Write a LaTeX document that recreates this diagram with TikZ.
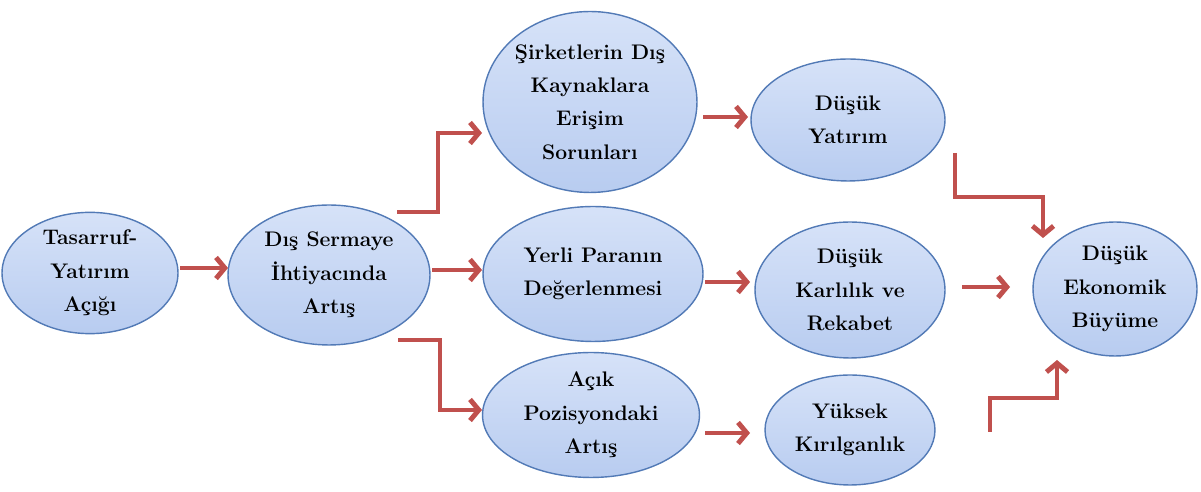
\documentclass[tikz,border=0pt]{standalone}
\usepackage{fontspec}
\usetikzlibrary{calc,shapes.geometric,arrows.meta}
\definecolor{okkirmizi}{RGB}{192,80,77}
\definecolor{balonkenar}{RGB}{82,122,182}
\definecolor{balonust}{RGB}{214,226,248}
\definecolor{balonalt}{RGB}{184,204,240}
\tikzset{
	balon/.style={ellipse, draw=balonkenar, line width=0.8pt, top color=balonust, bottom color=balonalt, inner sep=0pt, align=center, font=\fontsize{12}{19}\selectfont\bfseries},
	ok/.style={draw=okkirmizi, line width=2.8pt, -{Straight Barb[length=5pt,width=12pt]}}
}

\begin{document}
\begin{tikzpicture}[x=0.02cm, y=-0.02cm]
			%%%%% START %%%%%
			\useasboundingbox (0,0) rectangle (1201,492);
			
			\node[balon, minimum width=3.52cm, minimum height=2.4cm] (tasarruf) at (90,273) {Tasarruf-\\Yatırım\\Açığı};
			\node[balon, minimum width=4.04cm, minimum height=2.8cm] (sermaye) at (329,275) {Dış Sermaye\\İhtiyacında\\Artış};
			
			\node[balon, minimum width=4.28cm, minimum height=3.62cm] (sirket) at (590,102) {Şirketlerin Dış\\Kaynaklara\\Erişim\\Sorunları};
			\node[balon, minimum width=4.4cm, minimum height=2.7cm] (yerli) at (593,274) {Yerli Paranın\\Değerlenmesi};
			\node[balon, minimum width=4.34cm, minimum height=2.5cm] (acik) at (591,415) {Açık\\Pozisyondaki\\Artış};
			
			\node[balon, minimum width=3.88cm, minimum height=2.44cm] (yatirim) at (848,120) {Düşük\\Yatırım};
			\node[balon, minimum width=3.8cm, minimum height=2.72cm] (karlilik) at (850,290) {Düşük\\Karlılık ve\\Rekabet};
			\node[balon, minimum width=3.4cm, minimum height=2.2cm] (kirilgan) at (850,430) {Yüksek\\Kırılganlık};
			
			\node[balon, minimum width=3.28cm, minimum height=2.68cm] (buyume) at (1115,289) {Düşük\\Ekonomik\\Büyüme};
			
			\draw[ok] ($(tasarruf)+(90,-5)$) -- ($(sermaye)+(-101,-7)$);
			\draw[ok] ($(sermaye)+(68,-63)$) -- ++(41,0) |- ($(sirket)+(-108,31)$);
			\draw[ok] ($(sermaye)+(103,-5)$) -- ($(yerli)+(-111,-4)$);
			\draw[ok] ($(sermaye)+(69,65)$) -- ++(42,0) |- ($(acik)+(-109,-5)$);
			
			\draw[ok] ($(sirket)+(113,15)$) -- ($(yatirim)+(-100,-3)$);
			\draw[ok] ($(yerli)+(112,8)$) -- ($(karlilik)+(-100,-8)$);
			\draw[ok] ($(acik)+(114,18)$) -- ($(kirilgan)+(-100,3)$);
			
			\draw[ok] ($(yatirim)+(107,33)$) -- ++(0,44) -| ($(buyume)+(-72,-51)$);
			\draw[ok] ($(karlilik)+(112,-3)$) -- ($(buyume)+(-105,-2)$);
			\draw[ok] ($(kirilgan)+(140,2)$) -- ++(0,-34) -| ($(buyume)+(-58,71)$);
			
			%%%%% END %%%%%
		\end{tikzpicture}
\end{document}
